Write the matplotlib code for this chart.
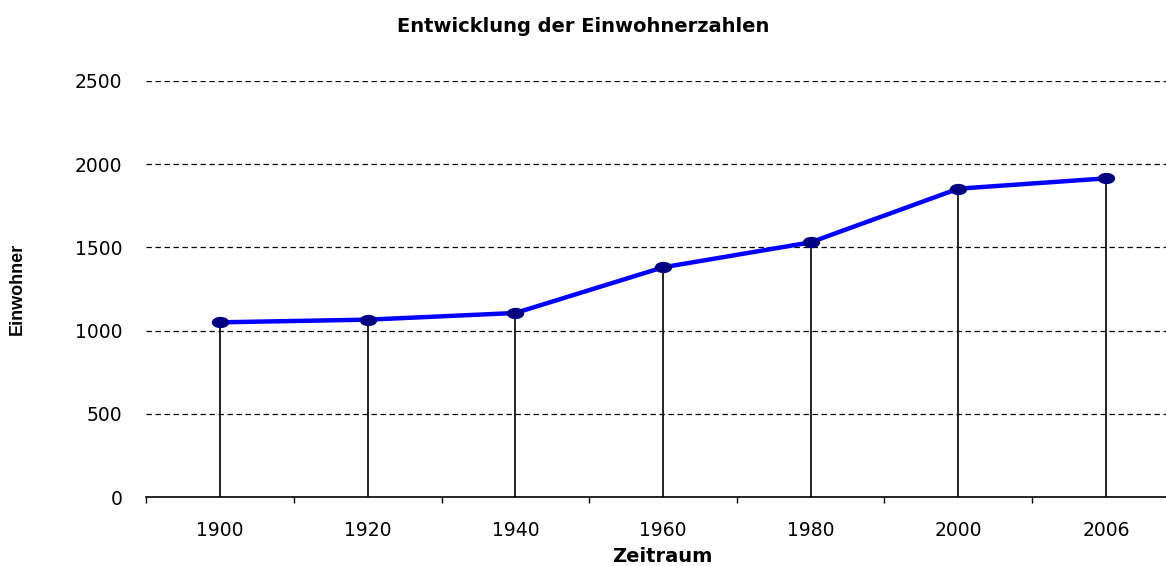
import matplotlib
matplotlib.use('Agg')
from matplotlib import pyplot as plt
from matplotlib.path import Path
import numpy as np

years = ['1900', '1920', '1940', '1960', '1980', '2000', '2006']
einwohner = [1050, 1066, 1106, 1380, 1530, 1852, 1914]
y_ticks = [0, 500, 1000, 1500, 2000, 2500]

plt.rcParams['font.family'] = ['DejaVu Sans']

fig = plt.figure(figsize=(11.66, 5.66), dpi=100)
ax = fig.add_axes([146.2 / 1166, 68.7 / 566, 1033.6 / 1166, 416.6 / 566])

x = np.arange(len(years))

# ellipse marker like the Excel one
circ = Path.unit_circle()
ellipse = Path(circ.vertices * np.array([1.0, 0.62]), circ.codes)

# drop lines
ax.vlines(x, 0, einwohner, color='black', lw=1.2, zorder=2)
ax.plot(x, einwohner, color='#0000ff', lw=3.2, marker=ellipse, markersize=11.5,
        markerfacecolor='#000080', markeredgecolor='#000080', zorder=3)

ax.set_xlim(-0.5, len(years) - 0.5)
ax.set_ylim(0, 2500)
ax.set_yticks(y_ticks)
ax.set_yticklabels([str(v) for v in y_ticks], fontsize=13.5)
for v in y_ticks[1:]:
    ax.axhline(v, color='black', lw=0.9, linestyle=(0, (4.3, 2.9)), zorder=1)

ax.set_xticks(x)
ax.set_xticklabels(years, fontsize=13.5)
ax.set_xticks(np.arange(-0.5, len(years)), minor=True)
ax.tick_params(axis='x', which='major', length=0, pad=17)
ax.tick_params(axis='x', which='minor', length=4, width=1, direction='out')
ax.tick_params(axis='y', length=0, pad=17)

for s in ['top', 'right', 'left']:
    ax.spines[s].set_visible(False)
ax.spines['bottom'].set_linewidth(1.2)

fig.text(0.5, 1 - 27 / 566, 'Entwicklung der Einwohnerzahlen', ha='center', va='center',
         fontsize=14, fontweight='bold')
fig.text(662 / 1166, 1 - 556 / 566, 'Zeitraum', ha='center', va='center',
         fontsize=14, fontweight='bold')
fig.text(17 / 1166, 1 - 289 / 566, 'Einwohner', ha='center', va='center', rotation=90,
         fontsize=13, fontweight='bold', family=['Liberation Sans Narrow', 'Liberation Sans'])

fig.savefig('out.png', dpi=100)
